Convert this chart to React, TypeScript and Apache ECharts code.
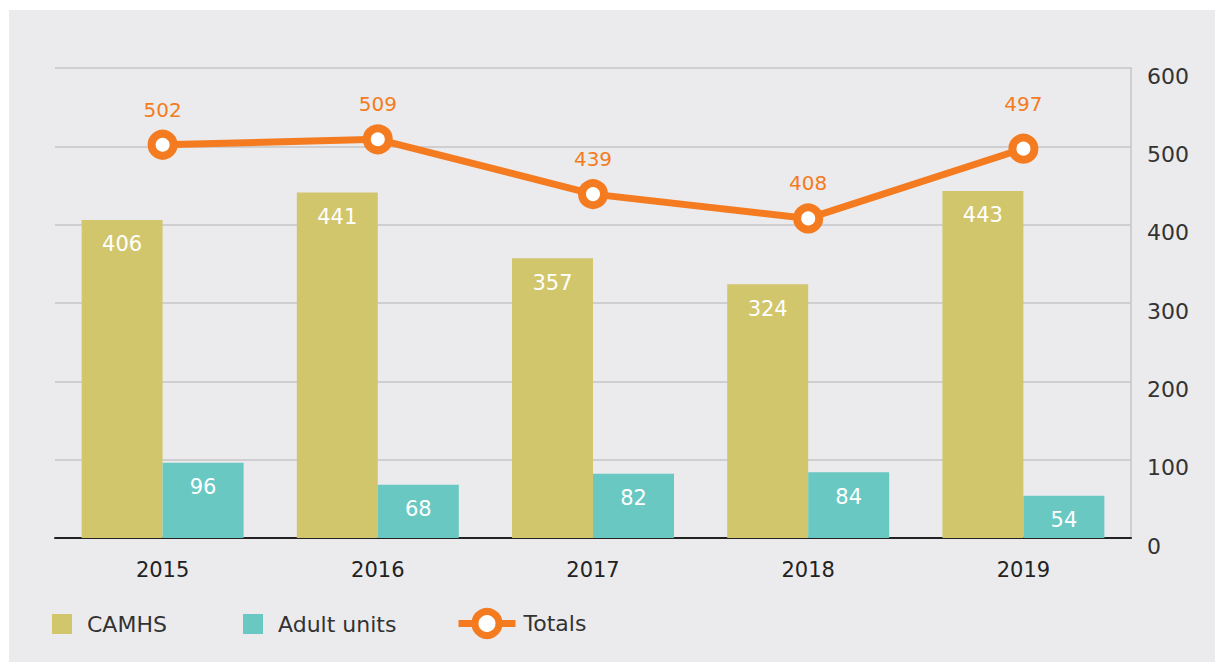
import React, { useEffect, useRef } from "react";
import * as echarts from "echarts";

const years = ["2015", "2016", "2017", "2018", "2019"];
const camhs = [406, 441, 357, 324, 443];
const adult = [96, 68, 82, 84, 54];
const totals = [502, 509, 439, 408, 497];

const FONT = "DejaVu Sans";
const ORANGE = "#f47b20";

export default function App() {
  const ref = useRef<HTMLDivElement>(null);
  useEffect(() => {
    const chart = echarts.init(ref.current!, null, { renderer: "svg" });
    const legendText = {
      fontSize: 22,
      color: "#333",
      fontFamily: FONT,
      lineHeight: 20,
    };
    chart.setOption({
      animation: false,
      backgroundColor: "#ebebed",
      textStyle: { fontFamily: FONT },
      grid: { left: 46, right: 84, top: 58, bottom: 124, containLabel: false },
      legend: [
        {
          data: ["CAMHS"],
          left: 38,
          top: 598,
          itemWidth: 20,
          itemHeight: 20,
          icon: "rect",
          textStyle: { ...legendText, padding: [0, 0, 0, 10] },
        },
        {
          data: ["Adult units"],
          left: 229,
          top: 598,
          itemWidth: 20,
          itemHeight: 20,
          icon: "rect",
          textStyle: { ...legendText, padding: [0, 0, 0, 10] },
        },
        {
          data: ["Totals"],
          left: 441,
          top: 593,
          itemWidth: 57,
          itemHeight: 30,
          itemStyle: { color: "#fff", borderColor: ORANGE, borderWidth: 7 },
          lineStyle: { color: ORANGE, width: 7 },
          textStyle: { ...legendText, padding: [0, 0, 0, 3] },
        },
      ],
      xAxis: {
        type: "category",
        data: years,
        axisTick: { show: false },
        axisLine: { lineStyle: { color: "#222", width: 2 } },
        axisLabel: { fontSize: 21, color: "#222", margin: 21, fontFamily: FONT },
      },
      yAxis: {
        type: "value",
        position: "right",
        min: 0,
        max: 600,
        interval: 100,
        axisLine: { show: true, lineStyle: { color: "#c6c6c8", width: 1.5 } },
        axisTick: { show: false },
        splitLine: { lineStyle: { color: "#c6c6c8", width: 1.5 } },
        axisLabel: {
          fontSize: 22,
          color: "#333",
          margin: 16,
          fontFamily: FONT,
          verticalAlign: "top",
          lineHeight: 16,
        },
      },
      series: [
        {
          name: "CAMHS",
          type: "bar",
          data: camhs,
          barWidth: 81,
          barGap: "0%",
          itemStyle: { color: "#d2c66d" },
          label: {
            show: true,
            position: "insideTop",
            distance: 14,
            color: "#fff",
            fontSize: 21,
            fontFamily: FONT,
          },
        },
        {
          name: "Adult units",
          type: "bar",
          data: adult,
          barWidth: 81,
          barGap: "0%",
          itemStyle: { color: "#69c9c2" },
          label: {
            show: true,
            position: "insideTop",
            distance: 14,
            color: "#fff",
            fontSize: 21,
            fontFamily: FONT,
          },
        },
        {
          name: "Totals",
          type: "line",
          data: totals.map((v, i) =>
            i === totals.length - 1 ? { value: v, label: { distance: 20 } } : v
          ),
          symbol: "circle",
          symbolSize: 22,
          lineStyle: { color: ORANGE, width: 7 },
          itemStyle: { color: "#fff", borderColor: ORANGE, borderWidth: 8 },
          label: {
            show: true,
            position: "top",
            distance: 10,
            color: ORANGE,
            fontSize: 20,
            fontFamily: FONT,
          },
          z: 5,
        },
      ],
    });
    return () => chart.dispose();
  }, []);
  return (
    <div
      ref={ref}
      style={{ position: "absolute", left: 9, top: 10, width: 1206, height: 652 }}
    />
  );
}
